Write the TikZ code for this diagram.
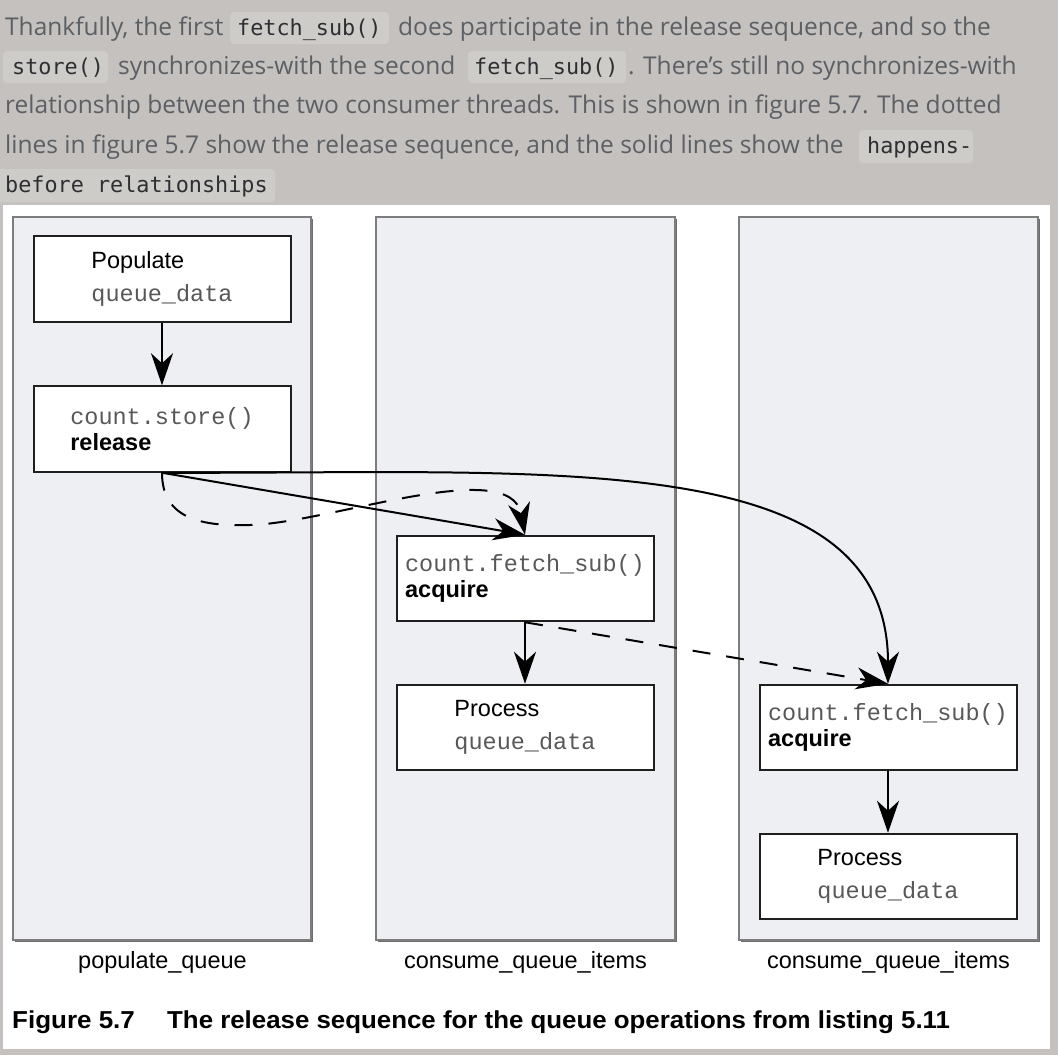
\documentclass[tikz,border=0pt]{standalone}
\usepackage{fontspec}
\setmainfont{Liberation Sans}
\newfontfamily\bodyfont{Open Sans}
\newfontfamily\codefont{DejaVu Sans Mono}
\newfontfamily\figmono{Liberation Mono}
\usetikzlibrary{arrows.meta}
\definecolor{pagebg}{RGB}{196,193,190}
\definecolor{codebg}{RGB}{206,204,201}
\definecolor{bodytext}{RGB}{92,95,100}
\definecolor{codetext}{RGB}{45,47,50}
\definecolor{lanefill}{RGB}{238,239,243}
\definecolor{laneline}{RGB}{125,125,125}
\definecolor{laneshadow}{RGB}{110,110,110}
\definecolor{monogray}{RGB}{88,88,88}
\begin{document}
\begin{tikzpicture}[x=1pt,y=-1pt,
  body/.style={font=\bodyfont\fontsize{24.5}{28}\selectfont, text=bodytext, anchor=base west, inner sep=0pt},
  code/.style={font=\codefont\fontsize{21.8}{26}\selectfont, text=codetext, anchor=base west, inner sep=0pt},
  codebox/.style={fill=codebg, rounded corners=4pt},
  lane/.style={fill=lanefill, draw=laneline, line width=1.2pt},
  opbox/.style={draw=black!88, line width=2pt, fill=white, minimum width=257pt, minimum height=85.5pt, inner sep=0pt, align=left, font=\fontsize{23.5}{28}\selectfont},
  lanelabel/.style={font=\fontsize{23.5}{28}\selectfont, anchor=base, inner sep=0pt},
  caption/.style={font=\bfseries\fontsize{24.5}{28}\selectfont, anchor=base west, inner sep=0pt},
  arr/.style={line width=2pt, -{Stealth[length=32pt,width=22pt,inset=10pt]}},
  dsh/.style={dash pattern=on 18pt off 16pt}
]
\useasboundingbox (0,0) rectangle (1058,1055);
\fill[pagebg] (0,0) rectangle (1058,1055);

% ---- text above the figure ----
\fill[codebox] (230,12) rectangle (389,44);
\fill[codebox] (3,51) rectangle (108,83);
\fill[codebox] (468,51) rectangle (626,83);
\fill[codebox] (859,130) rectangle (973,163);
\fill[codebox] (-6,169) rectangle (275,202);

\node[body] (t1a) at (5,35) {Thankfully, the first};
\node[code] (c1) at (237,35) {fetch\_sub()};
\node[body] (t1b) at (398,35) {does participate in the release sequence, and so the};
\node[code] (c2) at (12,74) {store()};
\node[body] (t2a) at (118,74) {synchronizes-with the second};
\node[code] (c3) at (474,74) {fetch\_sub()};
\node[body] (t2b) at (628,74) {. There’s still no synchronizes-with};
\node[body] (t3) at (5,113.5) {relationship between the two consumer threads. This is shown in figure 5.7. The dotted};
\node[body] (t4) at (5,153) {lines in figure 5.7 show the release sequence, and the solid lines show the};
\node[code] (c4) at (867,153) {happens-};
\node[code] (c5) at (5,192.5) {before relationships};

% ---- figure ----
\fill[white] (3,205) rectangle (1050,1049);

\foreach \xa/\xb in {13/311, 376/675, 739/1038}{
  \fill[laneshadow] (\xa+1.5,218.5) rectangle (\xb+1.5,941.5);
  \draw[lane] (\xa,217) rectangle (\xb,940);
}

\node[opbox] (pop) at (162,279) {Populate\\[5pt]{\figmono\color{monogray}queue\_data}};
\node[opbox] (store) at (162,429) {{\figmono\color{monogray}count.store()}\\[-1.5pt]\textbf{release}};
\node[opbox] (fetchA) at (525,578.5) {{\figmono\color{monogray}count.fetch\_sub()}\\[-1.5pt]\textbf{acquire}};
\node[opbox] (procA) at (525,727.5) {Process\\[5pt]{\figmono\color{monogray}queue\_data}};
\node[opbox] (fetchB) at (888,727.5) {{\figmono\color{monogray}count.fetch\_sub()}\\[-1.5pt]\textbf{acquire}};
\node[opbox] (procB) at (888,876.5) {Process\\[5pt]{\figmono\color{monogray}queue\_data}};

\draw[arr] (pop) -- (store);
\draw[arr] (fetchA) -- (procA);
\draw[arr] (fetchB) -- (procB);
\draw[arr] (store.south) -- (fetchA.north);
\draw[arr] (store.south) .. controls (550,474) and (888,445) .. (fetchB.north);
\draw[arr,dsh] (store.south) .. controls (162,515) and (195,527) .. (250,525)
  .. controls (330,523) and (510,455) .. (fetchA.north);
\draw[arr,dsh] (fetchA.south) -- (fetchB.north);

\node[lanelabel] (l1) at (162.5,968) {populate\_queue};
\node[lanelabel] (l2) at (525.5,968) {consume\_queue\_items};
\node[lanelabel] (l3) at (888.5,968) {consume\_queue\_items};

\node[caption] (cap1) at (12,1028) {\scalebox{1.06}[1]{Figure 5.7}};
\node[caption] (cap2) at (167,1028) {\scalebox{1.055}[1]{The release sequence for the queue operations from listing 5.11}};
\end{tikzpicture}
\end{document}
